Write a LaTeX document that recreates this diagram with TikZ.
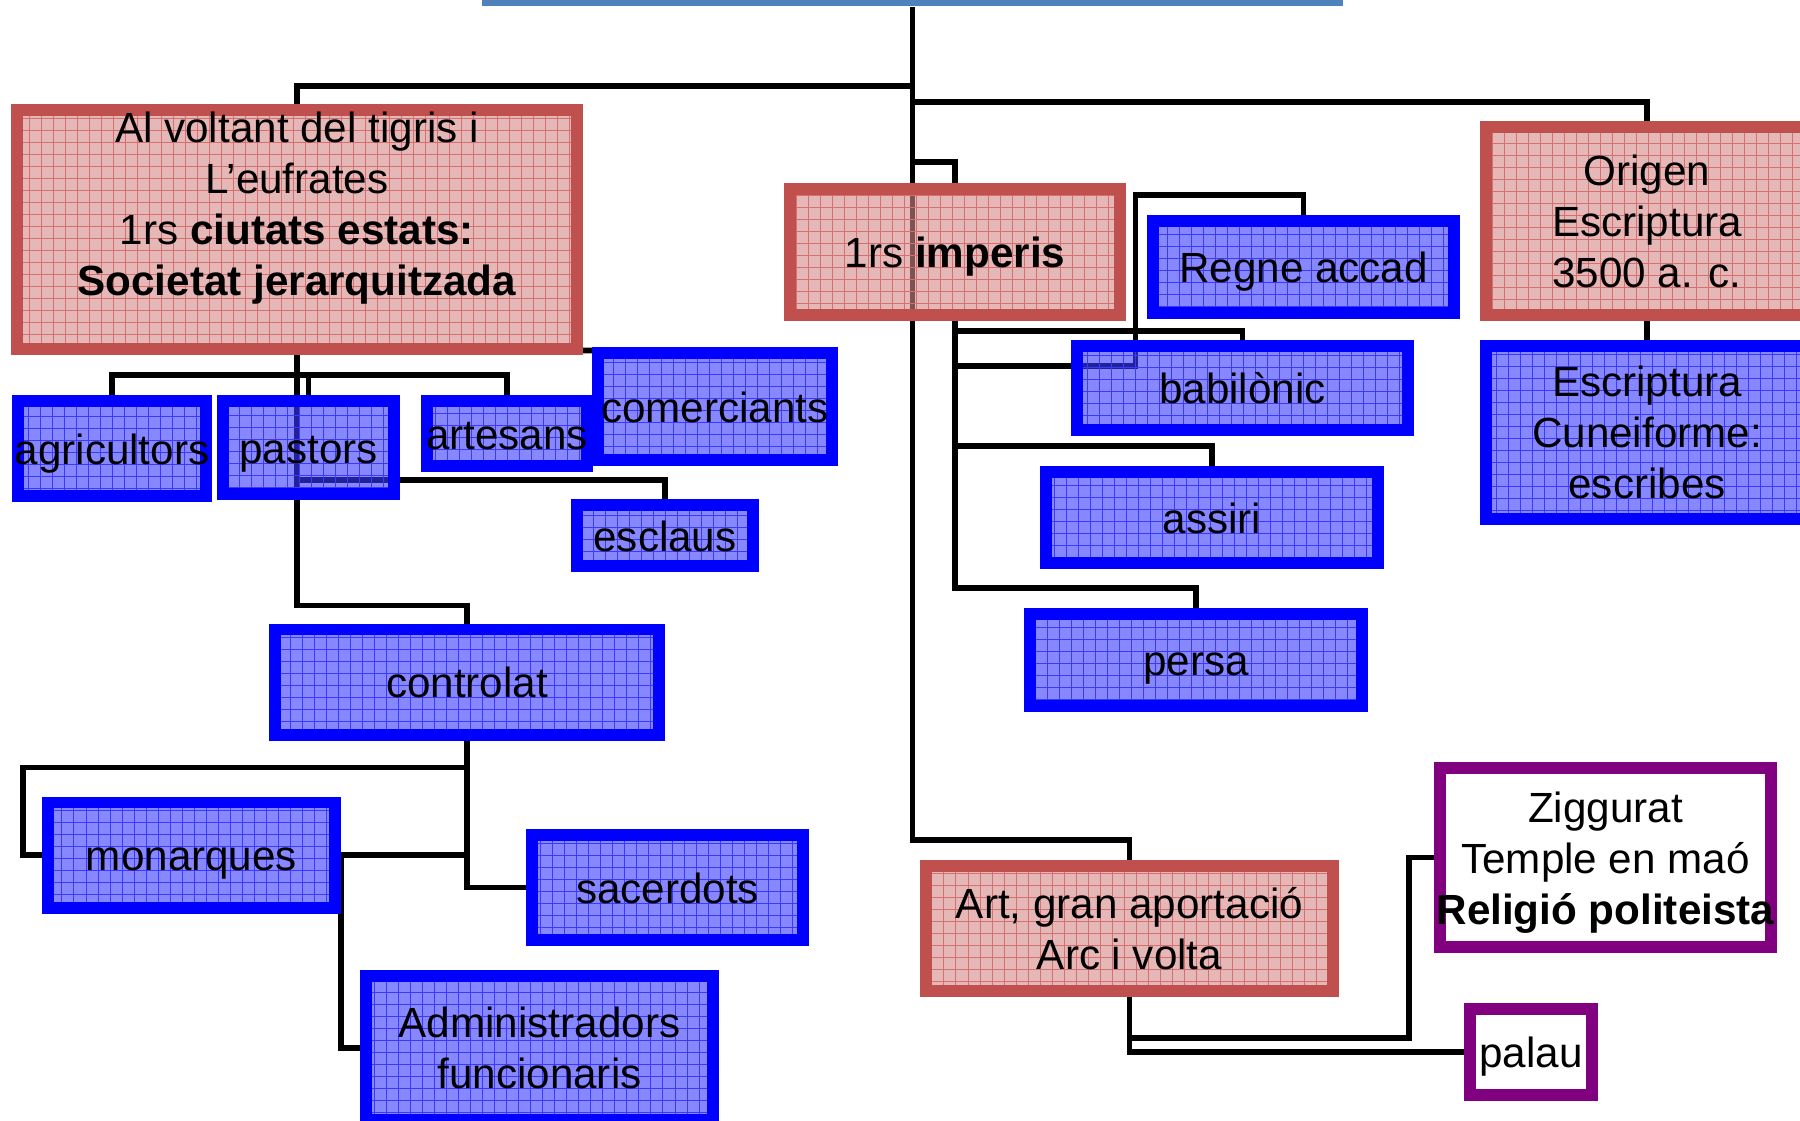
\documentclass[tikz,border=0pt]{standalone}
\usepackage{fontspec}
\setmainfont{Liberation Sans}
\usetikzlibrary{calc,positioning,backgrounds}
\definecolor{colvermell}{HTML}{C0504D}
\definecolor{colrosa}{HTML}{D58987}
\definecolor{reixarosa}{HTML}{D47070}
\definecolor{colblau}{HTML}{0000FF}
\definecolor{colblaufons}{HTML}{3737FF}
\definecolor{reixablau}{HTML}{3A3AFF}
\definecolor{collila}{HTML}{800080}
\definecolor{coltitol}{HTML}{4F81BD}

\begin{document}
\begin{tikzpicture}[x=0.01cm, y=-0.01cm,
  caixa/.style={rectangle, inner sep=0pt, align=center, line width=3.4pt, font=\fontsize{12pt}{14.5pt}\selectfont, fill opacity=0.6, text opacity=1},
  caixavermella/.style={caixa, draw=colvermell, fill=colrosa, path picture={\draw[reixarosa, line width=0.25pt, step=0.12cm] (path picture bounding box.south west) grid (path picture bounding box.north east);}},
  caixablava/.style={caixa, draw=colblau, fill=colblaufons, path picture={\draw[reixablau, line width=0.25pt, step=0.12cm] (path picture bounding box.south west) grid (path picture bounding box.north east);}},
  caixalila/.style={caixa, draw=collila, fill=white, fill opacity=1},
  unalinia/.style={text height=1.0em, text depth=0.1em},
  barra/.style={rectangle, fill=coltitol, inner sep=0pt, minimum width=8.61cm, minimum height=0.67cm},
  conn/.style={line width=1.6pt, black}]
\useasboundingbox (0,0) rectangle (1800,1120);
\clip (0,0) rectangle (1800,1120);

\node[barra, anchor=south] (titol) at (912.5,7) {};

\node[caixavermella, minimum width=5.60cm, minimum height=2.39cm] (voltant) at (297,229.5) {Al voltant del tigris i\\L’eufrates\\1rs \textbf{ciutats estats:}\\\textbf{Societat jerarquitzada}\\\mbox{}};
\node[caixablava, unalinia, minimum width=1.88cm, minimum height=0.95cm] (agricultors) at (112,448.5) {\makebox[0pt]{agricultors}};
\node[caixablava, unalinia, minimum width=1.71cm, minimum height=0.93cm] (pastors) at (308.5,447.5) {pastors};
\node[caixablava, unalinia, minimum width=1.60cm, minimum height=0.65cm] (artesans) at (507,433.5) {\makebox[0pt]{artesans}};
\node[caixablava, unalinia, minimum width=2.34cm, minimum height=1.07cm] (comerciants) at (715,406.5) {comerciants};
\node[caixablava, unalinia, minimum width=1.76cm, minimum height=0.61cm] (esclaus) at (665,535.5) {esclaus};
\node[caixablava, unalinia, minimum width=3.84cm, minimum height=1.05cm] (controlat) at (467,682) {controlat};
\node[caixablava, unalinia, minimum width=2.87cm, minimum height=1.05cm] (monarques) at (191.5,855) {monarques};
\node[caixablava, unalinia, minimum width=2.71cm, minimum height=1.05cm] (sacerdots) at (667.5,887.5) {sacerdots};
\node[caixablava, minimum width=3.47cm, minimum height=1.44cm] (admin) at (539.5,1048) {Administradors\\funcionaris};

\node[caixavermella, unalinia, minimum width=3.29cm, minimum height=1.26cm] (imperis) at (955,252) {1rs \textbf{imperis}};
\node[caixablava, unalinia, minimum width=3.01cm, minimum height=0.92cm] (accad) at (1303.5,267) {Regne accad};
\node[caixablava, unalinia, minimum width=3.31cm, minimum height=0.84cm] (babil) at (1242.5,388) {babilònic};
\node[caixablava, unalinia, minimum width=3.32cm, minimum height=0.91cm] (assiri) at (1212,517.5) {assiri};
\node[caixablava, unalinia, minimum width=3.31cm, minimum height=0.92cm] (persa) at (1196,660) {persa};

\node[caixavermella, minimum width=3.22cm, minimum height=1.88cm] (origen) at (1647,221) {Origen\\Escriptura\\3500 a. c.};
\node[caixablava, minimum width=3.22cm, minimum height=1.73cm] (escriptura) at (1647,432.5) {Escriptura\\Cuneiforme:\\escribes};

\node[caixavermella, minimum width=4.07cm, minimum height=1.25cm] (art) at (1129.5,928.5) {Art, gran aportació\\Arc i volta};
\node[caixalila, minimum width=3.31cm, minimum height=1.79cm] (zigg) at (1605.5,857.5) {\mbox{}\\[-0.11cm]Ziggurat\\Temple en maó\\\makebox[0pt]{\textbf{Religió politeista}}};
\node[caixalila, unalinia, minimum width=1.22cm, minimum height=0.86cm] (palau) at (1531,1052) {palau};

\begin{scope}[on background layer]
\fill[white] (0,0) rectangle (1800,1120);
\draw[conn] (titol.south) |- ($(art.north)+(0,-20)$) -| (art.north);
\draw[conn] ($(titol.south)+(0,79)$) -| (voltant.north);
\draw[conn] ($(titol.south)+(0,95)$) -| (origen.north);
\draw[conn] ($(titol.south)+(0,155)$) -| (imperis.north);
\draw[conn] (origen.south) -- (escriptura.north);

\draw[conn] (imperis.south) |- ($(persa.north)+(0,-20)$) -| (persa.north);
\draw[conn] ($(imperis.south)+(0,10)$) -| (babil.north);
\draw[conn] ($(imperis.south)+(0,45)$) -| ($(accad.north)+(-168,-20)$) -| (accad.north);
\draw[conn] ($(imperis.south)+(0,125)$) -| (assiri.north);

\draw[conn] (voltant.south) |- ($(controlat.north)+(0,-18)$) -| (controlat.north);
\draw[conn] (agricultors.north) |- ($(voltant.south)+(0,20)$) -| (artesans.north);
\draw[conn] (pastors.north) -- ++(0,-20);
\draw[conn] ($(voltant.south)+(0,125)$) -| (esclaus.north);
\draw[conn] ($(voltant.south)+(0,-4)$) -- ($(comerciants.west)+(0,-56)$);

\draw[conn] (controlat.south) -- ++(0,27) -| ($(monarques.west)+(-19,0)$) -- (monarques.west);
\draw[conn] (controlat.south) |- (sacerdots.west);
\draw[conn] (monarques.east) -- (controlat.south |- monarques.east);
\draw[conn] (monarques.east) |- (admin.west);

\draw[conn] (art.south) -- ++(0,41) -| ($(zigg.west)+(-25,0)$) -- (zigg.west);
\draw[conn] (art.south) |- (palau.west);
\end{scope}
\end{tikzpicture}
\end{document}
